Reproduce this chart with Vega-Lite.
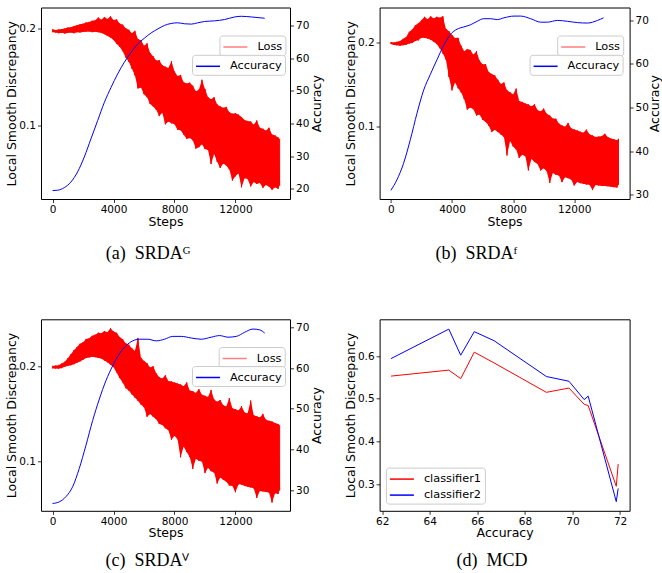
{
"$schema":"https://vega.github.io/schema/vega-lite/v6.json",
"padding":{"left":5,"top":6.5,"right":0,"bottom":0},
"config":{
 "view":{"stroke":"#000","strokeWidth":1},
 "axis":{"domain":false,"grid":false,"tickColor":"#000","tickSize":3.5,"tickWidth":0.8,"labelColor":"#000","labelFont":"DejaVu Sans","labelFontSize":10.5,"titleFont":"DejaVu Sans","titleFontSize":12.5,"titleFontWeight":"normal","titleColor":"#000","labelPadding":2},
 "legend":{"labelFont":"DejaVu Sans","labelFontSize":11.3,"labelColor":"#000","symbolType":"M-1,0H2.2","symbolSize":225,"symbolStrokeWidth":1.5,"labelOffset":18,"padding":3,"strokeColor":"#cccccc","fillColor":"rgba(255,255,255,0.85)","cornerRadius":3,"rowPadding":2,"title":null},
 "title":{"font":"Liberation Serif","fontSize":18,"fontWeight":"normal","color":"#000"}
},
"datasets":{
"lossA":[{"x":0,"lo":0.1960,"hi":0.1990},{"x":200,"lo":0.1956,"hi":0.1982},{"x":400,"lo":0.1950,"hi":0.1988},{"x":600,"lo":0.1954,"hi":0.1992},{"x":800,"lo":0.1946,"hi":0.1998},{"x":1000,"lo":0.1952,"hi":0.2008},{"x":1200,"lo":0.1956,"hi":0.2012},{"x":1400,"lo":0.1950,"hi":0.2024},{"x":1600,"lo":0.1960,"hi":0.2032},{"x":1800,"lo":0.1957,"hi":0.2042},{"x":2000,"lo":0.1962,"hi":0.2048},{"x":2200,"lo":0.1966,"hi":0.2060},{"x":2400,"lo":0.1968,"hi":0.2066},{"x":2600,"lo":0.1961,"hi":0.2078},{"x":2800,"lo":0.1966,"hi":0.2084},{"x":3000,"lo":0.1960,"hi":0.2112},{"x":3200,"lo":0.1952,"hi":0.2088},{"x":3400,"lo":0.1940,"hi":0.2116},{"x":3600,"lo":0.1922,"hi":0.2096},{"x":3800,"lo":0.1905,"hi":0.2124},{"x":4000,"lo":0.1880,"hi":0.2086},{"x":4200,"lo":0.1842,"hi":0.2092},{"x":4400,"lo":0.1810,"hi":0.2050},{"x":4600,"lo":0.1765,"hi":0.2038},{"x":4800,"lo":0.1700,"hi":0.2000},{"x":5000,"lo":0.1655,"hi":0.1985},{"x":5200,"lo":0.1585,"hi":0.1950},{"x":5400,"lo":0.1515,"hi":0.1975},{"x":5600,"lo":0.1380,"hi":0.1890},{"x":5800,"lo":0.1390,"hi":0.1878},{"x":6000,"lo":0.1320,"hi":0.1820},{"x":6200,"lo":0.1290,"hi":0.1845},{"x":6400,"lo":0.1220,"hi":0.1745},{"x":6600,"lo":0.1195,"hi":0.1712},{"x":6800,"lo":0.1160,"hi":0.1668},{"x":7000,"lo":0.1095,"hi":0.1672},{"x":7200,"lo":0.1130,"hi":0.1620},{"x":7400,"lo":0.1010,"hi":0.1605},{"x":7600,"lo":0.1040,"hi":0.1590},{"x":7800,"lo":0.1020,"hi":0.1660},{"x":8000,"lo":0.1012,"hi":0.1555},{"x":8200,"lo":0.0955,"hi":0.1508},{"x":8400,"lo":0.0950,"hi":0.1520},{"x":8600,"lo":0.0905,"hi":0.1445},{"x":8800,"lo":0.0860,"hi":0.1432},{"x":9000,"lo":0.0868,"hi":0.1440},{"x":9200,"lo":0.0845,"hi":0.1408},{"x":9400,"lo":0.0760,"hi":0.1350},{"x":9600,"lo":0.0775,"hi":0.1368},{"x":9800,"lo":0.0805,"hi":0.1470},{"x":10000,"lo":0.0755,"hi":0.1375},{"x":10200,"lo":0.0745,"hi":0.1290},{"x":10400,"lo":0.0600,"hi":0.1268},{"x":10600,"lo":0.0705,"hi":0.1290},{"x":10800,"lo":0.0625,"hi":0.1215},{"x":11000,"lo":0.0560,"hi":0.1195},{"x":11200,"lo":0.0605,"hi":0.1180},{"x":11400,"lo":0.0585,"hi":0.1190},{"x":11600,"lo":0.0545,"hi":0.1135},{"x":11800,"lo":0.0430,"hi":0.1120},{"x":12000,"lo":0.0475,"hi":0.1125},{"x":12200,"lo":0.0505,"hi":0.1110},{"x":12400,"lo":0.0360,"hi":0.1085},{"x":12600,"lo":0.0455,"hi":0.1055},{"x":12800,"lo":0.0445,"hi":0.1045},{"x":13000,"lo":0.0370,"hi":0.1040},{"x":13200,"lo":0.0415,"hi":0.1005},{"x":13400,"lo":0.0395,"hi":0.1050},{"x":13600,"lo":0.0405,"hi":0.0975},{"x":13800,"lo":0.0355,"hi":0.0965},{"x":14000,"lo":0.0385,"hi":0.0945},{"x":14200,"lo":0.0370,"hi":0.0975},{"x":14400,"lo":0.0335,"hi":0.0905},{"x":14600,"lo":0.0360,"hi":0.0895},{"x":14800,"lo":0.0345,"hi":0.0875},{"x":14900,"lo":0.0380,"hi":0.0860}],
"lossB":[{"x":0,"lo":0.1985,"hi":0.2010},{"x":200,"lo":0.1975,"hi":0.2004},{"x":400,"lo":0.1970,"hi":0.2012},{"x":600,"lo":0.1966,"hi":0.2022},{"x":800,"lo":0.1972,"hi":0.2048},{"x":1000,"lo":0.1978,"hi":0.2070},{"x":1200,"lo":0.1992,"hi":0.2132},{"x":1400,"lo":0.1998,"hi":0.2160},{"x":1600,"lo":0.2022,"hi":0.2210},{"x":1800,"lo":0.2030,"hi":0.2236},{"x":2000,"lo":0.2062,"hi":0.2270},{"x":2200,"lo":0.2058,"hi":0.2312},{"x":2400,"lo":0.2052,"hi":0.2284},{"x":2600,"lo":0.2038,"hi":0.2318},{"x":2800,"lo":0.2012,"hi":0.2292},{"x":3000,"lo":0.1986,"hi":0.2312},{"x":3200,"lo":0.1935,"hi":0.2302},{"x":3400,"lo":0.1872,"hi":0.2320},{"x":3600,"lo":0.1800,"hi":0.2168},{"x":3800,"lo":0.1590,"hi":0.2140},{"x":4000,"lo":0.1430,"hi":0.2095},{"x":4200,"lo":0.1525,"hi":0.2058},{"x":4400,"lo":0.1455,"hi":0.2060},{"x":4600,"lo":0.1405,"hi":0.1965},{"x":4800,"lo":0.1325,"hi":0.1898},{"x":5000,"lo":0.1200,"hi":0.1925},{"x":5200,"lo":0.1225,"hi":0.1915},{"x":5400,"lo":0.1205,"hi":0.1858},{"x":5600,"lo":0.1130,"hi":0.1900},{"x":5800,"lo":0.1142,"hi":0.1788},{"x":6000,"lo":0.1078,"hi":0.1745},{"x":6200,"lo":0.1052,"hi":0.1745},{"x":6400,"lo":0.1008,"hi":0.1652},{"x":6600,"lo":0.0930,"hi":0.1628},{"x":6800,"lo":0.0958,"hi":0.1610},{"x":7000,"lo":0.0932,"hi":0.1558},{"x":7200,"lo":0.0902,"hi":0.1508},{"x":7400,"lo":0.0872,"hi":0.1525},{"x":7600,"lo":0.0650,"hi":0.1432},{"x":7800,"lo":0.0822,"hi":0.1408},{"x":8000,"lo":0.0758,"hi":0.1382},{"x":8200,"lo":0.0722,"hi":0.1452},{"x":8400,"lo":0.0620,"hi":0.1302},{"x":8600,"lo":0.0660,"hi":0.1292},{"x":8800,"lo":0.0642,"hi":0.1272},{"x":9000,"lo":0.0470,"hi":0.1262},{"x":9200,"lo":0.0610,"hi":0.1238},{"x":9400,"lo":0.0572,"hi":0.1265},{"x":9600,"lo":0.0548,"hi":0.1195},{"x":9800,"lo":0.0470,"hi":0.1178},{"x":10000,"lo":0.0498,"hi":0.1212},{"x":10200,"lo":0.0462,"hi":0.1150},{"x":10400,"lo":0.0320,"hi":0.1128},{"x":10600,"lo":0.0440,"hi":0.1092},{"x":10800,"lo":0.0420,"hi":0.1090},{"x":11000,"lo":0.0410,"hi":0.1032},{"x":11200,"lo":0.0330,"hi":0.1010},{"x":11400,"lo":0.0390,"hi":0.0995},{"x":11600,"lo":0.0378,"hi":0.1040},{"x":11800,"lo":0.0362,"hi":0.0975},{"x":12000,"lo":0.0290,"hi":0.0962},{"x":12200,"lo":0.0332,"hi":0.0950},{"x":12400,"lo":0.0318,"hi":0.0935},{"x":12600,"lo":0.0310,"hi":0.0922},{"x":12800,"lo":0.0302,"hi":0.0960},{"x":13000,"lo":0.0298,"hi":0.0905},{"x":13200,"lo":0.0235,"hi":0.0890},{"x":13400,"lo":0.0295,"hi":0.0872},{"x":13600,"lo":0.0290,"hi":0.0876},{"x":13800,"lo":0.0285,"hi":0.0880},{"x":14000,"lo":0.0284,"hi":0.0910},{"x":14200,"lo":0.0280,"hi":0.0870},{"x":14400,"lo":0.0276,"hi":0.0852},{"x":14600,"lo":0.0270,"hi":0.0845},{"x":14800,"lo":0.0265,"hi":0.0832},{"x":14900,"lo":0.0300,"hi":0.0850}],
"lossC":[{"x":0,"lo":0.1976,"hi":0.2002},{"x":200,"lo":0.1975,"hi":0.2006},{"x":400,"lo":0.1974,"hi":0.2010},{"x":600,"lo":0.1980,"hi":0.2028},{"x":800,"lo":0.1995,"hi":0.2046},{"x":1000,"lo":0.2002,"hi":0.2082},{"x":1200,"lo":0.2010,"hi":0.2125},{"x":1400,"lo":0.2020,"hi":0.2168},{"x":1600,"lo":0.2035,"hi":0.2200},{"x":1800,"lo":0.2050,"hi":0.2235},{"x":2000,"lo":0.2068,"hi":0.2250},{"x":2200,"lo":0.2085,"hi":0.2285},{"x":2400,"lo":0.2092,"hi":0.2292},{"x":2600,"lo":0.2098,"hi":0.2318},{"x":2800,"lo":0.2094,"hi":0.2330},{"x":3000,"lo":0.2086,"hi":0.2350},{"x":3200,"lo":0.2080,"hi":0.2345},{"x":3400,"lo":0.2060,"hi":0.2368},{"x":3600,"lo":0.2040,"hi":0.2355},{"x":3800,"lo":0.2015,"hi":0.2398},{"x":4000,"lo":0.1990,"hi":0.2362},{"x":4200,"lo":0.1935,"hi":0.2350},{"x":4400,"lo":0.1875,"hi":0.2305},{"x":4600,"lo":0.1830,"hi":0.2282},{"x":4800,"lo":0.1770,"hi":0.2240},{"x":5000,"lo":0.1745,"hi":0.2225},{"x":5200,"lo":0.1705,"hi":0.2188},{"x":5400,"lo":0.1672,"hi":0.2160},{"x":5600,"lo":0.1638,"hi":0.2296},{"x":5800,"lo":0.1598,"hi":0.2088},{"x":6000,"lo":0.1570,"hi":0.2055},{"x":6200,"lo":0.1470,"hi":0.2030},{"x":6400,"lo":0.1498,"hi":0.1985},{"x":6600,"lo":0.1470,"hi":0.2000},{"x":6800,"lo":0.1445,"hi":0.1925},{"x":7000,"lo":0.1395,"hi":0.1885},{"x":7200,"lo":0.1385,"hi":0.1870},{"x":7400,"lo":0.1350,"hi":0.1905},{"x":7600,"lo":0.1330,"hi":0.1845},{"x":7800,"lo":0.1230,"hi":0.1840},{"x":8000,"lo":0.1270,"hi":0.1828},{"x":8200,"lo":0.1235,"hi":0.1818},{"x":8400,"lo":0.1045,"hi":0.1808},{"x":8600,"lo":0.1158,"hi":0.1790},{"x":8800,"lo":0.1100,"hi":0.1830},{"x":9000,"lo":0.1048,"hi":0.1745},{"x":9200,"lo":0.0923,"hi":0.1738},{"x":9400,"lo":0.1030,"hi":0.1720},{"x":9600,"lo":0.1010,"hi":0.1760},{"x":9800,"lo":0.1002,"hi":0.1700},{"x":10000,"lo":0.0880,"hi":0.1690},{"x":10200,"lo":0.0935,"hi":0.1678},{"x":10400,"lo":0.0900,"hi":0.1750},{"x":10600,"lo":0.0885,"hi":0.1650},{"x":10800,"lo":0.0770,"hi":0.1628},{"x":11000,"lo":0.0835,"hi":0.1645},{"x":11200,"lo":0.0810,"hi":0.1590},{"x":11400,"lo":0.0790,"hi":0.1578},{"x":11600,"lo":0.0750,"hi":0.1666},{"x":11800,"lo":0.0745,"hi":0.1560},{"x":12000,"lo":0.0680,"hi":0.1548},{"x":12200,"lo":0.0762,"hi":0.1535},{"x":12400,"lo":0.0760,"hi":0.1580},{"x":12600,"lo":0.0745,"hi":0.1515},{"x":12800,"lo":0.0738,"hi":0.1505},{"x":13000,"lo":0.0730,"hi":0.1640},{"x":13200,"lo":0.0720,"hi":0.1485},{"x":13400,"lo":0.0620,"hi":0.1475},{"x":13600,"lo":0.0692,"hi":0.1462},{"x":13800,"lo":0.0688,"hi":0.1500},{"x":14000,"lo":0.0682,"hi":0.1440},{"x":14200,"lo":0.0676,"hi":0.1428},{"x":14400,"lo":0.0571,"hi":0.1420},{"x":14600,"lo":0.0670,"hi":0.1405},{"x":14800,"lo":0.0662,"hi":0.1395},{"x":14900,"lo":0.0700,"hi":0.1380}],
"accA":[{"x":0,"y":19.4},{"x":330,"y":19.5},{"x":770,"y":20.3},{"x":1200,"y":22},{"x":1640,"y":25.1},{"x":2080,"y":29.7},{"x":2520,"y":35.3},{"x":2960,"y":40.9},{"x":3400,"y":46.5},{"x":3840,"y":51.1},{"x":4270,"y":55.2},{"x":4710,"y":58.8},{"x":5150,"y":61.8},{"x":5590,"y":64.4},{"x":6030,"y":66.2},{"x":6470,"y":67.8},{"x":6900,"y":69},{"x":7340,"y":70.1},{"x":7780,"y":70.7},{"x":8220,"y":70.9},{"x":8660,"y":70.6},{"x":9100,"y":70.5},{"x":9530,"y":70.9},{"x":9970,"y":71.3},{"x":10630,"y":71.5},{"x":11290,"y":71.9},{"x":11950,"y":72.7},{"x":12380,"y":72.9},{"x":13040,"y":72.7},{"x":13920,"y":72.3}],
"accB":[{"x":0,"y":31},{"x":394,"y":33.4},{"x":830,"y":37.2},{"x":1270,"y":42.6},{"x":1710,"y":48.7},{"x":2145,"y":54},{"x":2580,"y":57.6},{"x":3020,"y":61},{"x":3460,"y":64.3},{"x":3900,"y":66.8},{"x":4330,"y":68.0},{"x":4770,"y":68.5},{"x":5210,"y":69.0},{"x":5650,"y":69.8},{"x":6080,"y":70.4},{"x":6520,"y":70.4},{"x":6960,"y":70.2},{"x":7400,"y":70.6},{"x":8060,"y":71},{"x":8500,"y":71},{"x":9150,"y":70.4},{"x":9810,"y":69.6},{"x":10240,"y":69.6},{"x":10900,"y":70},{"x":11560,"y":69.8},{"x":12210,"y":69.5},{"x":12870,"y":69.4},{"x":13530,"y":70},{"x":13920,"y":70.6}],
"accC":[{"x":0,"y":26.7},{"x":440,"y":27.1},{"x":880,"y":28.4},{"x":1315,"y":30.8},{"x":1750,"y":35.3},{"x":2190,"y":41},{"x":2630,"y":47.1},{"x":3070,"y":52.4},{"x":3500,"y":56.9},{"x":3950,"y":60.6},{"x":4380,"y":63.5},{"x":4820,"y":65.5},{"x":5260,"y":66.7},{"x":5700,"y":67.1},{"x":6250,"y":67.1},{"x":6800,"y":66.7},{"x":7340,"y":67.1},{"x":7890,"y":67.8},{"x":8440,"y":67.8},{"x":9100,"y":67.4},{"x":9750,"y":67.1},{"x":10410,"y":67.6},{"x":10960,"y":68},{"x":11510,"y":67.6},{"x":12060,"y":67.8},{"x":12600,"y":68.8},{"x":13150,"y":69.6},{"x":13590,"y":69.4},{"x":13920,"y":68.6}],
"mcd":[{"acc":62.37,"lsd":0.553,"c":"classifier1"},{"acc":64.8,"lsd":0.567,"c":"classifier1"},{"acc":65.3,"lsd":0.547,"c":"classifier1"},{"acc":65.87,"lsd":0.609,"c":"classifier1"},{"acc":66.7,"lsd":0.584,"c":"classifier1"},{"acc":68.9,"lsd":0.515,"c":"classifier1"},{"acc":69.85,"lsd":0.525,"c":"classifier1"},{"acc":70.49,"lsd":0.487,"c":"classifier1"},{"acc":70.66,"lsd":0.484,"c":"classifier1"},{"acc":71.84,"lsd":0.295,"c":"classifier1"},{"acc":71.92,"lsd":0.347,"c":"classifier1"},{"acc":62.37,"lsd":0.594,"c":"classifier2"},{"acc":64.8,"lsd":0.663,"c":"classifier2"},{"acc":65.3,"lsd":0.602,"c":"classifier2"},{"acc":65.87,"lsd":0.657,"c":"classifier2"},{"acc":66.7,"lsd":0.636,"c":"classifier2"},{"acc":68.9,"lsd":0.552,"c":"classifier2"},{"acc":69.85,"lsd":0.541,"c":"classifier2"},{"acc":70.49,"lsd":0.498,"c":"classifier2"},{"acc":70.66,"lsd":0.506,"c":"classifier2"},{"acc":71.84,"lsd":0.259,"c":"classifier2"},{"acc":71.92,"lsd":0.29,"c":"classifier2"}]
},
"columns":2,
"bounds":"flush",
"spacing":{"row":119.8,"column":89.6},
"resolve":{"scale":{"color":"independent","stroke":"independent"},"legend":{"color":"independent","stroke":"independent"}},
"concat":[
 {"width":249,"height":191.5,
  "title":{"text":"(a)\u2002SRDA\u1D33","orient":"bottom","anchor":"start","frame":"group","dx":64.7,"offset":17},
  "resolve":{"scale":{"y":"independent"}},
  "layer":[
   {"data":{"name":"lossA"},"mark":{"type":"area","color":"#ff0000","opacity":1},
    "encoding":{
     "x":{"field":"x","type":"quantitative","scale":{"domain":[-760,15580],"nice":false,"zero":false},"axis":{"values":[0,4000,8000,12000],"format":"d","title":"Steps","titlePadding":0}},
     "y":{"field":"lo","type":"quantitative","scale":{"domain":[0.024,0.2215],"nice":false,"zero":false},"axis":{"orient":"left","values":[0.1,0.2],"format":".1f","title":"Local Smooth Discrepancy","titlePadding":0}},
     "y2":{"field":"hi"}}},
   {"data":{"name":"lossA"},"transform":[{"fold":["lo","hi"],"as":["k","v"]}],"mark":{"type":"line","strokeWidth":1},
    "encoding":{
     "x":{"field":"x","type":"quantitative"},
     "y":{"field":"v","type":"quantitative","scale":{"domain":[0.024,0.2215],"nice":false,"zero":false},"axis":null},
     "stroke":{"datum":"Loss","scale":{"range":["#ff0000"]},"legend":{"orient":"none","legendX":178.4,"legendY":28,"symbolOpacity":0.5}}}},
   {"data":{"name":"accA"},"mark":{"type":"line","strokeWidth":1,"interpolate":"monotone"},
    "encoding":{
     "x":{"field":"x","type":"quantitative"},
     "y":{"field":"y","type":"quantitative","scale":{"domain":[16.8,75.6],"nice":false,"zero":false},"axis":{"orient":"right","values":[20,30,40,50,60,70],"title":"Accuracy","titleAngle":270,"titleBaseline":"top","titlePadding":2}},
     "color":{"datum":"Accuracy","scale":{"range":["#0000ff"]},"legend":{"orient":"none","legendX":151,"legendY":47.3}}}}
  ]},
 {"width":250,"height":191.5,
  "title":{"text":"(b)\u2002SRDA\u1DA0","orient":"bottom","anchor":"start","frame":"group","dx":56,"offset":17},
  "resolve":{"scale":{"y":"independent"}},
  "layer":[
   {"data":{"name":"lossB"},"mark":{"type":"area","color":"#ff0000","opacity":1},
    "encoding":{
     "x":{"field":"x","type":"quantitative","scale":{"domain":[-740,15627],"nice":false,"zero":false},"axis":{"values":[0,4000,8000,12000],"format":"d","title":"Steps","titlePadding":0}},
     "y":{"field":"lo","type":"quantitative","scale":{"domain":[0.0128,0.2424],"nice":false,"zero":false},"axis":{"orient":"left","values":[0.1,0.2],"format":".1f","title":"Local Smooth Discrepancy","titlePadding":0}},
     "y2":{"field":"hi"}}},
   {"data":{"name":"lossB"},"transform":[{"fold":["lo","hi"],"as":["k","v"]}],"mark":{"type":"line","strokeWidth":1},
    "encoding":{
     "x":{"field":"x","type":"quantitative"},
     "y":{"field":"v","type":"quantitative","scale":{"domain":[0.0128,0.2424],"nice":false,"zero":false},"axis":null},
     "stroke":{"datum":"Loss","scale":{"range":["#ff0000"]},"legend":{"orient":"none","legendX":177.6,"legendY":28,"symbolOpacity":0.5}}}},
   {"data":{"name":"accB"},"mark":{"type":"line","strokeWidth":1,"interpolate":"monotone"},
    "encoding":{
     "x":{"field":"x","type":"quantitative"},
     "y":{"field":"y","type":"quantitative","scale":{"domain":[29.0,72.97],"nice":false,"zero":false},"axis":{"orient":"right","values":[30,40,50,60,70],"title":"Accuracy","titleAngle":270,"titleBaseline":"top","titlePadding":0}},
     "color":{"datum":"Accuracy","scale":{"range":["#0000ff"]},"legend":{"orient":"none","legendX":150,"legendY":47.3}}}}
  ]},
 {"width":249,"height":191.5,
  "title":{"text":"(c)\u2002SRDA\u2C7D","orient":"bottom","anchor":"start","frame":"group","dx":64.4,"offset":13},
  "resolve":{"scale":{"y":"independent"}},
  "layer":[
   {"data":{"name":"lossC"},"mark":{"type":"area","color":"#ff0000","opacity":1},
    "encoding":{
     "x":{"field":"x","type":"quantitative","scale":{"domain":[-760,15580],"nice":false,"zero":false},"axis":{"values":[0,4000,8000,12000],"format":"d","title":"Steps","titlePadding":0}},
     "y":{"field":"lo","type":"quantitative","scale":{"domain":[0.0485,0.2491],"nice":false,"zero":false},"axis":{"orient":"left","values":[0.1,0.2],"format":".1f","title":"Local Smooth Discrepancy","titlePadding":0}},
     "y2":{"field":"hi"}}},
   {"data":{"name":"lossC"},"transform":[{"fold":["lo","hi"],"as":["k","v"]}],"mark":{"type":"line","strokeWidth":1},
    "encoding":{
     "x":{"field":"x","type":"quantitative"},
     "y":{"field":"v","type":"quantitative","scale":{"domain":[0.0485,0.2491],"nice":false,"zero":false},"axis":null},
     "stroke":{"datum":"Loss","scale":{"range":["#ff0000"]},"legend":{"orient":"none","legendX":177.7,"legendY":27.7,"symbolOpacity":0.5}}}},
   {"data":{"name":"accC"},"mark":{"type":"line","strokeWidth":1,"interpolate":"monotone"},
    "encoding":{
     "x":{"field":"x","type":"quantitative"},
     "y":{"field":"y","type":"quantitative","scale":{"domain":[24.9,72.0],"nice":false,"zero":false},"axis":{"orient":"right","values":[30,40,50,60,70],"title":"Accuracy","titleAngle":270,"titleBaseline":"top","titlePadding":2}},
     "color":{"datum":"Accuracy","scale":{"range":["#0000ff"]},"legend":{"orient":"none","legendX":151,"legendY":46.7}}}}
  ]},
 {"width":250,"height":191.5,
  "title":{"text":"(d)\u2002MCD","orient":"bottom","anchor":"start","frame":"group","dx":77,"offset":13},
  "data":{"name":"mcd"},
  "mark":{"type":"line","strokeWidth":1},
  "encoding":{
   "x":{"field":"acc","type":"quantitative","scale":{"domain":[61.89,72.4],"nice":false,"zero":false},"axis":{"values":[62,64,66,68,70,72],"title":"Accuracy","titlePadding":0}},
   "y":{"field":"lsd","type":"quantitative","scale":{"domain":[0.2376,0.686],"nice":false,"zero":false},"axis":{"values":[0.3,0.4,0.5,0.6],"format":".1f","title":"Local Smooth Discrepancy","titlePadding":0}},
   "color":{"field":"c","type":"nominal","scale":{"domain":["classifier1","classifier2"],"range":["#ff0000","#0000ff"]},"legend":{"orient":"none","legendX":6.3,"legendY":148.3}}}}
]
}
